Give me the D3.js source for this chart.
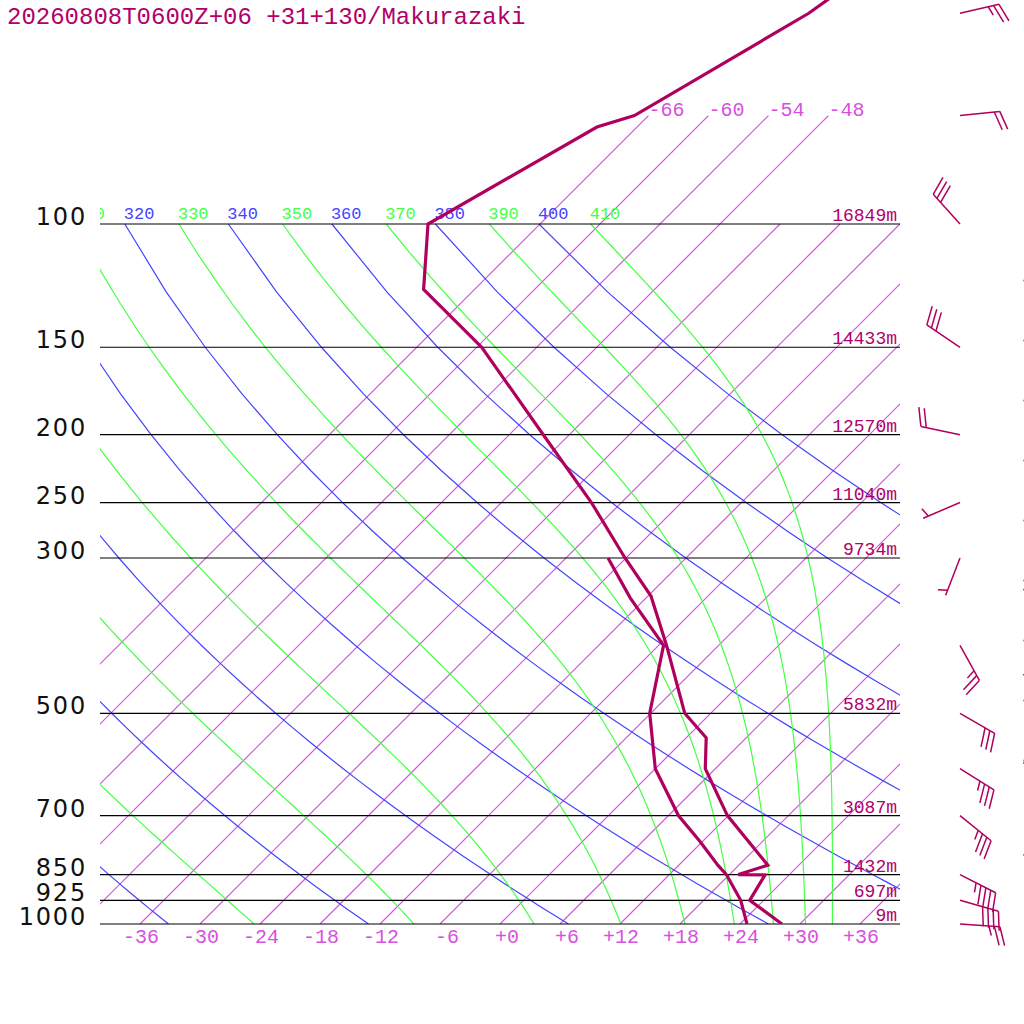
<!DOCTYPE html>
<html>
<head>
<meta charset="utf-8">
<script src="https://cdn.jsdelivr.net/npm/d3@7"></script>
<style>
  body { margin: 0; background: #fff; }
  svg { display: block; background: #fff; }
  .mono { font-family: "Liberation Mono", "DejaVu Sans Mono", monospace; }
  .plev { font-family: "DejaVu Sans", sans-serif; font-size: 24px; fill: #111; letter-spacing: 1.8px; }
</style>
</head>
<body>
<svg id="chart" width="1024" height="1024"></svg>
<script>
const title = "20260808T0600Z+06 +31+130/Makurazaki";

const levels = [1000, 925, 850, 700, 500, 300, 250, 200, 150, 100];
const heights = ["9m", "697m", "1432m", "3087m", "5832m", "9734m", "11040m", "12570m", "14433m", "16849m"];

const tempTicks = [-36, -30, -24, -18, -12, -6, 0, 6, 12, 18, 24, 30, 36];
const tickLabels = ["-36", "-30", "-24", "-18", "-12", "-6", "+0", "+6", "+12", "+18", "+24", "+30", "+36"];

const isotherms = [-66, -60, -54, -48, -42, -36, -30, -24, -18, -12, -6, 0, 6, 12, 18, 24, 30, 36];
const upperIsotherms = [-66, -60, -54, -48];
const upperLabels = ["-66", "-60", "-54", "-48"];

const dryThetas = [240, 260, 280, 300, 320, 340, 360, 380, 400];
const moistThetas = [250, 270, 290, 310, 330, 350, 370, 390, 410];

// temperature profile (hPa, degC)
const tempP = [1000, 925, 851, 850, 824, 700, 600, 542, 500, 400, 340, 300, 250, 200, 150, 124, 100, 72.7, 70, 50, 30];
const tempT = [28.2, 22.6, 21.6, 18.9, 20.9, 11.9, 5.0, 2.0, -2.6, -11.2, -17.7, -24.1, -33.0, -44.6, -59.5, -71.1, -77.2, -70.0, -67.4, -60.2, -54.0];

// dew point profile
const dewP = [1000, 925, 850, 824, 763, 700, 600, 500, 400, 342, 300];
const dewT = [24.7, 21.7, 17.7, 15.9, 11.8, 7.0, 0.0, -6.1, -11.5, -19.6, -25.8];

// winds (hPa, direction from, knots)
const windP = [1000, 925, 850, 700, 600, 500, 400, 300, 250, 200, 150, 100, 70, 50];
const windDir = [94, 106, 117, 129, 122, 120, 151, 201, 247, 282, 304, 318, 84, 77];
const windSpd = [25, 40, 45, 35, 35, 30, 25, 5, 5, 20, 30, 30, 20, 25];

// ---- colours ----
const cSound = "#b0005e";
const cText = "#b0006a";
const cIso = "#d850e0";
const cDry = "#4444ff";
const cMoist = "#44ff44";

const svg = d3.select("#chart");

// scales: log pressure vertically, temperature skewed 45 degrees
const y = d3.scaleLog().domain([1000, 100]).range([924, 224]);
const xT = d3.scaleLinear().domain([-40, 40]).range([100, 900]);
const sx = (t, p) => xT(t) + (y(1000) - y(p));

const skewLine = d3.line()
  .x((d) => sx(d.t, d.p))
  .y((d) => y(d.p));

// clip: plot area plus the one pixel strip that shows at the far right
const defs = svg.append("defs");
const bgClip = defs.append("clipPath").attr("id", "bgclip");
bgClip.append("rect").attr("x", 100).attr("y", 0).attr("width", 800).attr("height", 924);
bgClip.append("rect").attr("x", 1023).attr("y", 0).attr("width", 1).attr("height", 924);
defs.append("clipPath").attr("id", "plotclip")
  .append("rect").attr("x", 100).attr("y", 0).attr("width", 800).attr("height", 924);

const bg = svg.append("g").attr("clip-path", "url(#bgclip)").attr("fill", "none");

//isotherms (a hair over 1px: exact 45 degree hairlines come out black here)
bg.append("g")
  .selectAll("path")
  .data(isotherms)
  .enter()
  .append("path")
  .attr("d", (t) => skewLine([{ p: 1000, t }, { p: upperIsotherms.includes(t) ? 70 : 100, t }]))
  .attr("stroke", cIso)
  .attr("stroke-width", 1.2);

//dry adiabats
const pSteps = d3.range(1000, 99, -25);
const dryLine = (th) => pSteps.map((p) => ({ p, t: th * Math.pow(p / 1000, 0.286) - 273.15 }));

bg.append("g")
  .selectAll("path")
  .data(dryThetas)
  .enter()
  .append("path")
  .attr("d", (th) => skewLine(dryLine(th)))
  .attr("stroke", cDry)
  .attr("stroke-width", 1.2);

//moist adiabats (Bolton theta-e held constant)
function thetaE(tk, p) {
  const tc = tk - 273.15;
  const es = 6.112 * Math.exp((17.67 * tc) / (tc + 243.5));
  if (es >= p) return Infinity;
  const r = (622 * es) / (p - es);
  return tk * Math.pow(1000 / p, 0.2854 * (1 - 0.00028 * r)) *
    Math.exp((3.376 / tk - 0.00254) * r * (1 + 0.00081 * r));
}
function solveT(the, p) {
  let lo = 150, hi = 330;
  for (let i = 0; i < 60; i++) {
    const mid = (lo + hi) / 2;
    if (thetaE(mid, p) > the) hi = mid; else lo = mid;
  }
  return (lo + hi) / 2 - 273.15;
}
const mSteps = d3.range(1000, 99, -10);
const moistLine = (the) => mSteps.map((p) => ({ p, t: solveT(the, p) }));

bg.append("g")
  .selectAll("path")
  .data(moistThetas)
  .enter()
  .append("path")
  .attr("d", (the) => skewLine(moistLine(the)))
  .attr("stroke", cMoist)
  .attr("stroke-width", 1.2);

//pressure lines
svg.append("g")
  .selectAll("line")
  .data(levels)
  .enter()
  .append("line")
  .attr("x1", 100)
  .attr("x2", 900)
  .attr("y1", (p) => y(p))
  .attr("y2", (p) => y(p))
  .attr("stroke", "#000")
  .attr("stroke-width", 1.2);

//pressure labels on the left
svg.append("g")
  .selectAll("text")
  .data(levels)
  .enter()
  .append("text")
  .attr("class", "plev")
  .attr("x", 87)
  .attr("y", (p) => y(p) + 1)
  .attr("text-anchor", "end")
  .text((p) => p);

//heights at the right end of each level
svg.append("g")
  .selectAll("text")
  .data(levels)
  .enter()
  .append("text")
  .attr("class", "mono")
  .attr("x", 897)
  .attr("y", (p) => y(p) - 3)
  .attr("text-anchor", "end")
  .attr("font-size", 18)
  .attr("fill", cText)
  .text((p, i) => heights[i]);

//theta labels at 100 hPa (only those whose line reaches near the frame)
const lbl = svg.append("g").attr("clip-path", "url(#plotclip)").attr("class", "mono").attr("font-size", 17);
const dryTop = (th) => sx(th * Math.pow(0.1, 0.286) - 273.15, 100);
const moistTop = (the) => sx(solveT(the, 100), 100);
lbl.selectAll(".dlab")
  .data(dryThetas.filter((th) => dryTop(th) > 60))
  .enter()
  .append("text")
  .attr("x", (th) => dryTop(th) - 1)
  .attr("y", y(100) - 5.5)
  .attr("fill", cDry)
  .text((th) => th);
lbl.selectAll(".mlab")
  .data(moistThetas.filter((the) => moistTop(the) > 60))
  .enter()
  .append("text")
  .attr("x", (the) => moistTop(the) - 1)
  .attr("y", y(100) - 5.5)
  .attr("fill", cMoist)
  .text((the) => the);

//isotherm labels at 70 hPa
svg.append("g")
  .selectAll("text")
  .data(upperIsotherms)
  .enter()
  .append("text")
  .attr("class", "mono")
  .attr("x", (t) => sx(t, 70))
  .attr("y", y(70) + 0.5)
  .attr("font-size", 20)
  .attr("fill", cIso)
  .text((t, i) => upperLabels[i]);

//temperature axis labels
svg.append("g")
  .selectAll("text")
  .data(tempTicks)
  .enter()
  .append("text")
  .attr("class", "mono")
  .attr("x", (t) => xT(t) + 19)
  .attr("y", 943)
  .attr("text-anchor", "end")
  .attr("font-size", 20)
  .attr("fill", cIso)
  .text((t, i) => tickLabels[i]);

//sounding
const snd = svg.append("g").attr("clip-path", "url(#plotclip)");
const tempData = tempP.map((p, i) => ({ p, t: tempT[i] }));
const dewData = dewP.map((p, i) => ({ p, t: dewT[i] }));
[tempData, dewData].forEach((data) => {
  snd.append("path")
    .attr("d", skewLine(data))
    .attr("fill", "none")
    .attr("stroke", cSound)
    .attr("stroke-width", 3.2)
    .attr("stroke-linejoin", "miter");
});

//wind barbs
const barbs = svg.append("g").attr("stroke", cSound).attr("stroke-width", 1.5).attr("fill", "none");
function drawBarb(yy, dir, spd) {
  const rad = (dir * Math.PI) / 180;
  const d = [Math.sin(rad), -Math.cos(rad)];
  const n = [Math.cos(rad), Math.sin(rad)];
  const x0 = 960, len = 40, step = 5.5;
  barbs.append("line")
    .attr("x1", x0).attr("y1", yy)
    .attr("x2", x0 + len * d[0]).attr("y2", yy + len * d[1]);
  const full = Math.floor(spd / 10);
  const half = spd % 10 >= 5;
  let i = full === 0 ? 1 : 0;
  const tick = (k, a, b) => {
    const s = len - k * step;
    const bx = x0 + s * d[0], by = yy + s * d[1];
    barbs.append("line")
      .attr("x1", bx).attr("y1", by)
      .attr("x2", bx + a * d[0] + b * n[0])
      .attr("y2", by + a * d[1] + b * n[1]);
  };
  for (let k = 0; k < full; k++) tick(i++, 6, 18.5);
  if (half) tick(i, 3, 9.25);
}
windP.forEach((p, i) => drawBarb(y(p), windDir[i], windSpd[i]));

//title
svg.append("text")
  .attr("class", "mono")
  .attr("x", 7)
  .attr("y", 24)
  .attr("font-size", 24)
  .attr("fill", cText)
  .text(title);
</script>
</body>
</html>
